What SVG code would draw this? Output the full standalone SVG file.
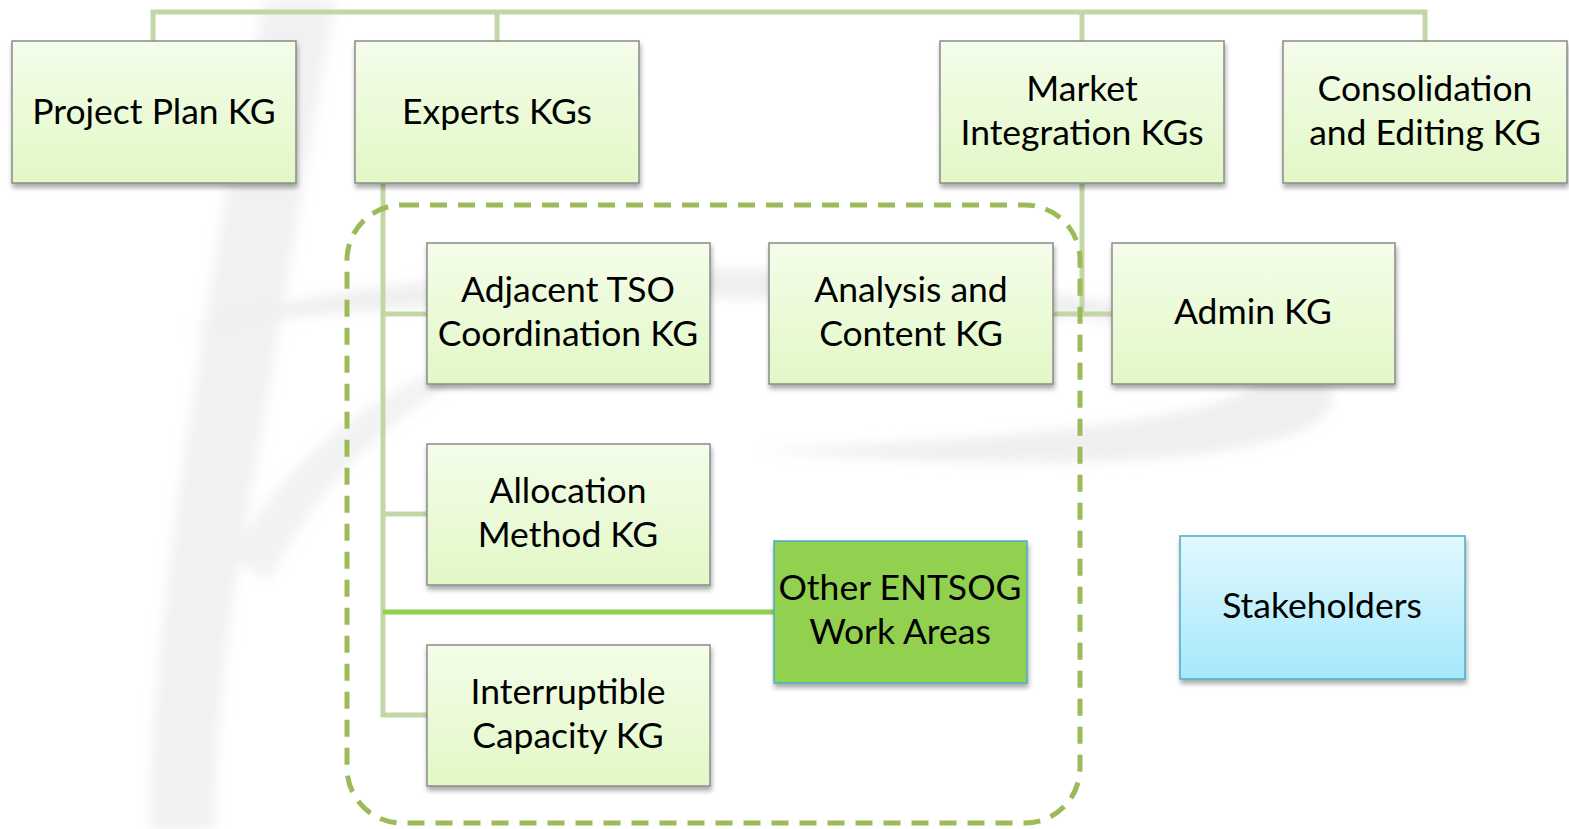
<svg xmlns="http://www.w3.org/2000/svg" width="1569" height="829" viewBox="0 0 1569 829">
<defs>
<linearGradient id="gGreen" x1="0" y1="0" x2="0" y2="1">
<stop offset="0" stop-color="#F4FDEA"/>
<stop offset="1" stop-color="#E2F8C6"/>
</linearGradient>
<linearGradient id="gBlue" x1="0" y1="0" x2="0" y2="1">
<stop offset="0" stop-color="#E2F8FE"/>
<stop offset="1" stop-color="#A5E8FB"/>
</linearGradient>
<filter id="sh" x="-10%" y="-10%" width="125%" height="130%">
<feGaussianBlur in="SourceAlpha" stdDeviation="2.5"/>
<feOffset dx="1" dy="4" result="b"/>
<feComponentTransfer><feFuncA type="linear" slope="0.35"/></feComponentTransfer>
<feMerge><feMergeNode/><feMergeNode in="SourceGraphic"/></feMerge>
</filter>
<filter id="blur"><feGaussianBlur stdDeviation="6"/></filter>
</defs>
<style>
.box{fill:url(#gGreen);stroke:#8A8A8A;stroke-width:1.5;filter:url(#sh)}
.t{font-family:Lato,"Open Sans",sans-serif;font-size:35.5px;fill:#000;text-anchor:middle}
.c{fill:none;stroke:#C3D6A5;stroke-width:5}
</style>
<g id="watermark" opacity="0.5" filter="url(#blur)">
<path d="M265,0 C230,150 200,350 175,520 C160,640 150,740 150,829 L215,829 C215,720 230,600 255,470 C280,330 305,170 335,0 Z" fill="#E4E4E4"/>
<path d="M185,330 C420,250 900,250 1200,320 C1330,350 1350,395 1320,420 C1250,470 1000,470 760,450 C1000,440 1230,420 1260,380 C1280,350 1150,320 950,305 C700,290 400,300 185,330 Z" fill="#E0E0E0"/>
<path d="M230,560 C300,430 420,360 560,330 C430,380 330,460 270,580 Z" fill="#E6E6E6"/>
</g>
<g id="connectors">
<path class="c" d="M153,41 V12 H1425 V41 M497,12 V41 M1082,12 V41"/>
<path class="c" d="M383,183 V715 H427 M383,314 H427 M383,514 H427"/>
<path class="c" d="M1082,183 V314 M1053,314 H1112"/>
<path d="M383,612 H774" fill="none" stroke="#92D050" stroke-width="5"/>
</g>
<g id="group-box">
<rect x="347" y="205" width="733" height="618" rx="55" fill="none" stroke="#9BBB59" stroke-width="5" stroke-dasharray="17 11"/>
</g>
<g id="project-plan"><rect class="box" x="12" y="41" width="284" height="142"/><text class="t" x="154" y="124">Project Plan KG</text></g>
<g id="experts"><rect class="box" x="355" y="41" width="284" height="142"/><text class="t" x="497" y="124">Experts KGs</text></g>
<g id="market"><rect class="box" x="940" y="41" width="284" height="142"/><text class="t" x="1082" y="101">Market</text><text class="t" x="1082" y="145">Integration KGs</text></g>
<g id="consolidation"><rect class="box" x="1283" y="41" width="284" height="142"/><text class="t" x="1425" y="101">Consolidation</text><text class="t" x="1425" y="145">and Editing KG</text></g>
<g id="adjacent"><rect class="box" x="427" y="243" width="283" height="141"/><text class="t" x="568" y="302">Adjacent TSO</text><text class="t" x="568" y="346">Coordination KG</text></g>
<g id="analysis"><rect class="box" x="769" y="243" width="284" height="141"/><text class="t" x="911" y="302">Analysis and</text><text class="t" x="911" y="346">Content KG</text></g>
<g id="admin"><rect class="box" x="1112" y="243" width="283" height="141"/><text class="t" x="1253" y="324">Admin KG</text></g>
<g id="allocation"><rect class="box" x="427" y="444" width="283" height="141"/><text class="t" x="568" y="503">Allocation</text><text class="t" x="568" y="547">Method KG</text></g>
<g id="interruptible"><rect class="box" x="427" y="645" width="283" height="141"/><text class="t" x="568" y="704">Interruptible</text><text class="t" x="568" y="748">Capacity KG</text></g>
<g id="other"><rect x="774" y="541" width="253" height="142" fill="#92D050" stroke="#4BACC6" stroke-width="1.5" filter="url(#sh)"/><text class="t" x="900" y="600">Other ENTSOG</text><text class="t" x="900" y="644">Work Areas</text></g>
<g id="stakeholders"><rect x="1180" y="536" width="285" height="143" fill="url(#gBlue)" stroke="#4BACC6" stroke-width="1.5" filter="url(#sh)"/><text class="t" x="1322" y="618">Stakeholders</text></g>
</svg>
